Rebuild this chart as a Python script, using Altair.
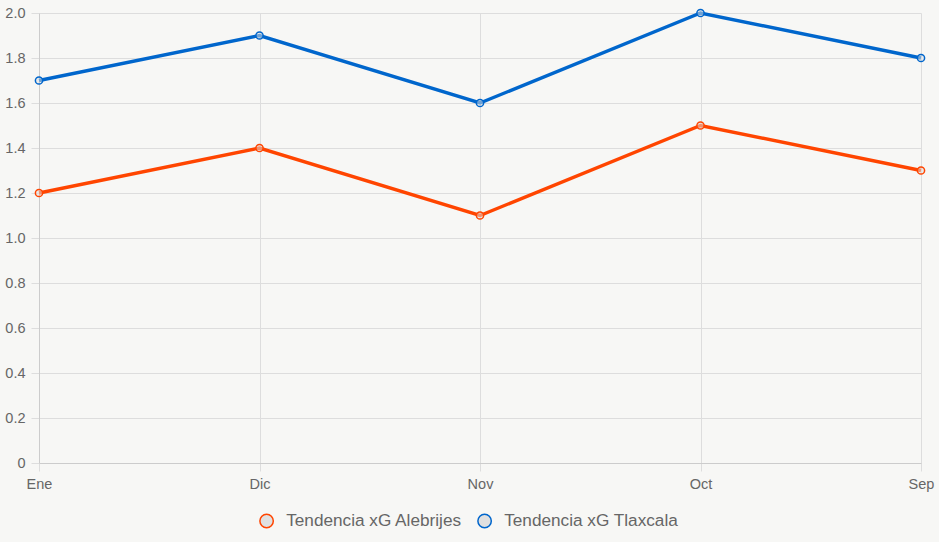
import altair as alt
import pandas as pd

months = ["Ene", "Dic", "Nov", "Oct", "Sep"]
alebrijes = [1.2, 1.4, 1.1, 1.5, 1.3]
tlaxcala = [1.7, 1.9, 1.6, 2.0, 1.8]
series_names = ["Tendencia xG Alebrijes", "Tendencia xG Tlaxcala"]
series_colors = ["#ff4500", "#0066cc"]

rows = []
for name, vals in zip(series_names, [alebrijes, tlaxcala]):
    for m, v in zip(months, vals):
        rows.append({"mes": m, "xg": v, "serie": name})
df = pd.DataFrame(rows)

color = alt.Color(
    "serie:N",
    scale=alt.Scale(domain=series_names, range=series_colors),
    legend=alt.Legend(
        title=None,
        orient="none",
        legendX=219,
        legendY=499,
        direction="horizontal",
        symbolType="circle",
        symbolFillColor="#e0e0e0",
        symbolSize=180,
        symbolStrokeWidth=1.5,
        labelFontSize=17.2,
        labelColor="#666666",
        labelFont="Liberation Sans",
        labelLimit=400,
        labelOffset=11,
        columnPadding=12,
    ),
)

x = alt.X(
    "mes:N",
    sort=months,
    scale=alt.Scale(type="point", padding=0),
    axis=alt.Axis(title=None, labelAngle=0, grid=True, tickSize=8, labelPadding=6),
)
y = alt.Y(
    "xg:Q",
    scale=alt.Scale(domain=[0, 2.0], nice=False),
    axis=alt.Axis(
        title=None,
        values=[0, 0.2, 0.4, 0.6, 0.8, 1.0, 1.2, 1.4, 1.6, 1.8, 2.0],
        labelExpr="datum.value == 0 ? '0' : format(datum.value, '.1f')",
        tickSize=8,
        labelPadding=6,
    ),
)

line = alt.Chart(df).mark_line(strokeWidth=3.4).encode(x=x, y=y, color=color)
pts = alt.Chart(df).mark_point(
    shape="circle", filled=False, fill="#e0e0e0", fillOpacity=0.5, size=52, strokeWidth=1.5, opacity=1
).encode(x=x, y=y, stroke=alt.Stroke("serie:N", scale=alt.Scale(domain=series_names, range=series_colors), legend=None))

chart = (
    alt.layer(line, pts)
    .properties(
        width=882,
        height=450,
        background="#f7f7f5",
        padding={"left": 39, "top": 13, "right": 18, "bottom": 79},
        autosize=alt.AutoSizeParams(type="none"),
    )
    .configure_view(stroke=None)
    .configure_axis(
        gridColor="#dddddd",
        domainColor="#cccccc",
        tickColor="#dddddd",
        labelColor="#666666",
        labelFont="Liberation Sans",
        labelFontSize=14.5,
    )
)

chart.save("out.html", embed_options={"renderer": "svg", "actions": False})
